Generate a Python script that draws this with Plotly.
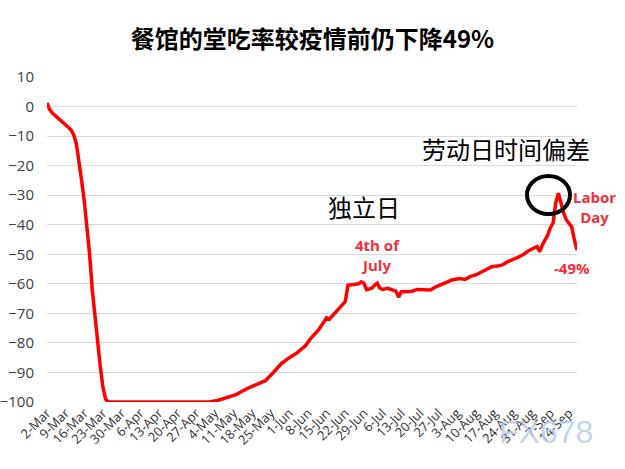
import plotly.graph_objects as go

dates = [
    "2020-03-02", "2020-03-03", "2020-03-04", "2020-03-05", "2020-03-06", "2020-03-07",
    "2020-03-08", "2020-03-09", "2020-03-10", "2020-03-11", "2020-03-12", "2020-03-13",
    "2020-03-14", "2020-03-15", "2020-03-16", "2020-03-17", "2020-03-18", "2020-03-19",
    "2020-03-20", "2020-03-21", "2020-03-22", "2020-03-23", "2020-03-24", "2020-03-25",
    "2020-05-02", "2020-05-05", "2020-05-09", "2020-05-12", "2020-05-16", "2020-05-19",
    "2020-05-23", "2020-05-26", "2020-05-29", "2020-06-01", "2020-06-04", "2020-06-07",
    "2020-06-09", "2020-06-12", "2020-06-15", "2020-06-16", "2020-06-19", "2020-06-21",
    "2020-06-22", "2020-06-23", "2020-06-25", "2020-06-27", "2020-06-28", "2020-06-29",
    "2020-06-30", "2020-07-01", "2020-07-02", "2020-07-03", "2020-07-04", "2020-07-05",
    "2020-07-06", "2020-07-08", "2020-07-10", "2020-07-11", "2020-07-12", "2020-07-13",
    "2020-07-15", "2020-07-17", "2020-07-19", "2020-07-22", "2020-07-24", "2020-07-26",
    "2020-07-28", "2020-07-30", "2020-08-01", "2020-08-04", "2020-08-06", "2020-08-08",
    "2020-08-10", "2020-08-12", "2020-08-14", "2020-08-16", "2020-08-18", "2020-08-20",
    "2020-08-22", "2020-08-24", "2020-08-26", "2020-08-28", "2020-08-30", "2020-09-01",
    "2020-09-02", "2020-09-03", "2020-09-04", "2020-09-06", "2020-09-07", "2020-09-08",
    "2020-09-09", "2020-09-10", "2020-09-11", "2020-09-12", "2020-09-13", "2020-09-14",
    "2020-09-15", "2020-09-16", "2020-09-17",
]
values = [
    1.2, -1.0, -2.2, -3.0, -3.5, -4.5,
    -5.2, -6.0, -7.0, -7.9, -9.5, -12.5,
    -18.0, -25.0, -32.0, -40.0, -50.0, -62.0,
    -71.0, -79.0, -88.0, -95.0, -99.0, -100.0,
    -100.0, -99.5, -98.5, -97.5, -95.5, -94.3,
    -92.8, -90.0, -87.0, -85.0, -83.3, -81.0,
    -78.5, -75.5, -71.5, -72.0, -68.9, -67.0,
    -66.0, -60.5, -60.2, -60.0, -59.3, -59.8,
    -62.0, -61.8, -61.5, -60.5, -59.8, -61.5,
    -61.9, -61.5, -62.0, -62.5, -64.5, -62.7,
    -62.7, -62.5, -61.9, -62.0, -62.1, -61.0,
    -60.4, -59.5, -58.7, -58.2, -58.5, -57.5,
    -57.0, -56.0, -55.3, -54.2, -54.0, -53.6,
    -52.5, -51.9, -51.0, -50.0, -48.7, -47.8,
    -47.4, -49.1, -46.8, -43.5, -41.0, -39.5,
    -32.7, -29.3, -33.0, -36.0, -38.4, -39.5,
    -40.7, -45.0, -48.6,
]
tick_dates = [
    "2020-03-02", "2020-03-09", "2020-03-16", "2020-03-23", "2020-03-30",
    "2020-04-06", "2020-04-13", "2020-04-20", "2020-04-27", "2020-05-04",
    "2020-05-11", "2020-05-18", "2020-05-25", "2020-06-01", "2020-06-08",
    "2020-06-15", "2020-06-22", "2020-06-29", "2020-07-06", "2020-07-13",
    "2020-07-20", "2020-07-27", "2020-08-03", "2020-08-10", "2020-08-17",
    "2020-08-24", "2020-08-31", "2020-09-07", "2020-09-14",
]
tick_labels = [
    "2-Mar", "9-Mar", "16-Mar", "23-Mar", "30-Mar", "6-Apr", "13-Apr", "20-Apr",
    "27-Apr", "4-May", "11-May", "18-May", "25-May", "1-Jun", "8-Jun", "15-Jun",
    "22-Jun", "29-Jun", "6-Jul", "13-Jul", "20-Jul", "27-Jul", "3-Aug", "10-Aug",
    "17-Aug", "24-Aug", "31-Aug", "7-Sep", "14-Sep",
]
y_ticks = [10, 0, -10, -20, -30, -40, -50, -60, -70, -80, -90, -100]

title_text = "餐馆的堂吃率较疫情前仍下降49%"

L, R, T, B = 47, 48, 77, 67
W, H = 625, 469
PW, PH = W - L - R, H - T - B


def px(x):
    return (x - L) / PW


def py(y):
    return (H - B - y) / PH


fig = go.Figure()
fig.add_trace(go.Scatter(
    x=dates, y=values, mode="lines",
    line=dict(color="#ff0000", width=3.5),
    hoverinfo="skip", showlegend=False,
))

red = "#f2303c"


def note(text, x, y, size, color, family):
    fig.add_annotation(text=text, xref="paper", yref="paper", x=px(x), y=py(y),
                       showarrow=False, xanchor="center", yanchor="middle",
                       font=dict(size=size, color=color, family=family))


note("劳动日时间偏差", 506, 148, 24, "#000000", "Noto Sans CJK SC")
note("独立日", 364, 206, 24, "#000000", "Noto Sans CJK SC")
note("<b>4th of<br>July</b>", 377, 255, 15, red, "Open Sans")
note("<b>Labor<br>Day</b>", 594, 207, 15, red, "Open Sans")
note("<b>-49%</b>", 572, 268, 15, red, "Open Sans")
note("FX678", 546, 432, 32, "rgba(185,205,235,0.85)", "Liberation Sans")

fig.update_layout(
    width=W, height=H,
    margin=dict(l=L, r=R, t=T, b=B, autoexpand=False),
    paper_bgcolor="white", plot_bgcolor="white",
    title=dict(text="<b>" + title_text + "</b>", x=0.5, xref="container", xanchor="center",
               y=1 - 40 / H, yanchor="middle",
               font=dict(size=24, color="#000000", family="Noto Sans CJK SC")),
    xaxis=dict(
        type="date", range=["2020-03-02", "2020-09-17"],
        tickvals=tick_dates, ticktext=tick_labels, tickangle=-45,
        showgrid=False, zeroline=False, showline=False, ticks="",
        automargin=False,
        tickfont=dict(size=13, color="#333333", family="Open Sans"),
    ),
    yaxis=dict(
        range=[-100, 10], tickvals=y_ticks,
        showgrid=True, gridcolor="#d9d9d9", gridwidth=1,
        zeroline=False, showline=False, ticks="", automargin=False,
        ticklabelstandoff=12,
        tickfont=dict(size=15, color="#404040", family="Open Sans"),
    ),
    shapes=[
        dict(type="rect", xref="paper", yref="paper", layer="between",
             x0=px(348), x1=px(410), y0=py(282), y1=py(221),
             fillcolor="white", line=dict(width=0)),
        dict(type="circle", xref="paper", yref="paper",
             x0=px(527), x1=px(570), y0=py(214), y1=py(176),
             line=dict(color="black", width=4)),
    ],
)

fig.write_html("out.html", config={"displayModeBar": False},
               post_script="document.body.style.margin='0px';document.body.style.overflow='hidden';")
